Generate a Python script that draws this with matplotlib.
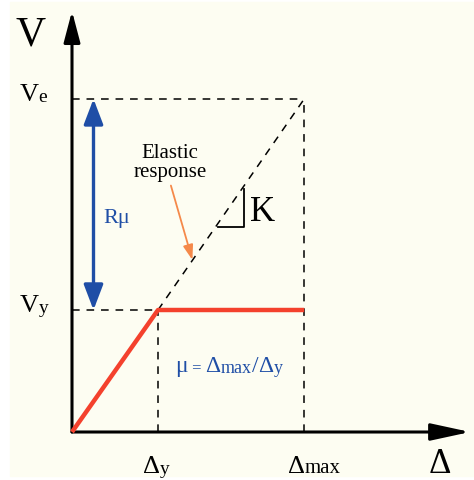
import matplotlib.pyplot as plt
from matplotlib.patches import Rectangle

plt.rcParams['font.family'] = ['Liberation Serif', 'DejaVu Serif']

# idealised elasto-plastic response (normalised units)
delta_y = 1.0
delta_max = 2.7
V_y = 1.0
V_e = 2.73

disp = [0, delta_y, delta_max]
force = [0, V_y, V_y]
elastic_x = [delta_y, delta_max]
elastic_y = [V_y, V_e]

red = '#f4412d'
blue = '#1f4ea6'
orange = '#f5894a'

fig = plt.figure(figsize=(4.74, 4.81), dpi=100)
bg = Rectangle((10 / 474, 4 / 481), 1, 474 / 481,
               transform=fig.transFigure, color='#fdfdf2', zorder=-10)
fig.patches.append(bg)
ax = fig.add_axes([0, 0, 1, 1], zorder=1)
ax.patch.set_visible(False)
ax.set_xlim(-72 / 86, 402 / 86)
ax.set_ylim(-48 / 122, 433 / 122)
ax.axis('off')


def chain(x, y, pieces, **kw):
    # write text pieces of different sizes one after another on a common line
    t = ax.text(x, y, pieces[0][0], fontsize=pieces[0][1], ha='left', va='baseline', **kw)
    for s, size in pieces[1:]:
        t = ax.annotate(s, xy=(1, 0), xycoords=t, fontsize=size, ha='left', va='bottom', **kw)
    return t


# axes with arrow heads
ax.annotate('', xy=(4.63, 0), xytext=(0, 0),
            arrowprops=dict(arrowstyle='-|>,head_length=1.2,head_width=0.26',
                            mutation_scale=20, lw=2.2, color='black', shrinkA=0, shrinkB=0))
ax.annotate('', xy=(0, 3.45), xytext=(0, 0),
            arrowprops=dict(arrowstyle='-|>,head_length=0.95,head_width=0.25',
                            mutation_scale=20, lw=2.2, color='black', shrinkA=0, shrinkB=0))

# dashed guides
dash = dict(color='black', lw=1.1, dashes=(5, 4.5))
ax.plot([0, delta_max], [V_e, V_e], **dash)
ax.plot([delta_max, delta_max], [0, V_e], **dash)
ax.plot([0, delta_y], [V_y, V_y], **dash)
ax.plot([delta_y, delta_y], [0, V_y], **dash)
ax.plot(elastic_x, elastic_y, **dash)

# response curve
ax.plot(disp, force, color=red, lw=3.2, solid_capstyle='butt', zorder=5)

# stiffness triangle
ax.plot([1.7, 2.0, 2.0], [1.68, 1.68, 1.99], color='black', lw=1.3)
ax.text(2.07, 1.81, 'K', fontsize=25, va='center', ha='left')

# R_mu arrow
ax.annotate('', xy=(0.25, V_e), xytext=(0.25, V_y),
            arrowprops=dict(arrowstyle='<|-|>,head_length=1.1,head_width=0.42',
                            mutation_scale=14, lw=2.4, color=blue, shrinkA=0, shrinkB=0))
ax.text(0.36, 1.76, 'Rμ', fontsize=16, color=blue, va='center')

# elastic response note
ax.text(1.14, 2.21, 'Elastic\nresponse', fontsize=15, ha='center', va='center',
        linespacing=1.0)
ax.annotate('', xy=(1.4, 1.41), xytext=(1.15, 2.02),
            arrowprops=dict(arrowstyle='-|>,head_length=0.9,head_width=0.3',
                            mutation_scale=10, lw=1.3, color=orange, shrinkA=0, shrinkB=0))

chain(1.2, 0.50, [('μ', 17), (' = ', 12), ('Δ', 17), ('max', 13), ('/', 17),
                  ('Δ', 17), ('y', 13)], color=blue)

# labels
ax.text(-0.48, 3.18, 'V', fontsize=30, ha='center', va='baseline')
chain(-0.61, V_e - 0.01, [('V', 19), ('e', 14)])
chain(-0.61, V_y - 0.01, [('V', 19), ('y', 14)])
chain(delta_y - 0.174, -0.328, [('Δ', 19), ('y', 14)])
chain(delta_max - 0.19, -0.328, [('Δ', 19), ('max', 15)])
ax.text(4.28, -0.325, 'Δ', fontsize=25, ha='center', va='baseline')

fig.savefig('out.png', dpi=100)
